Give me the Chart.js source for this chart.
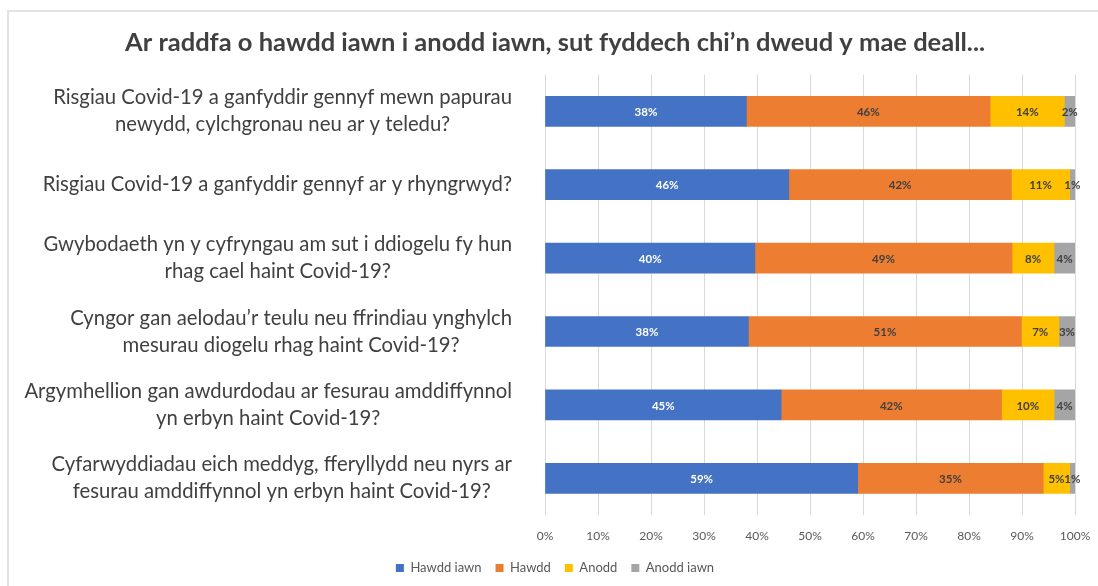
<!DOCTYPE html>
<html>
<head>
<meta charset="utf-8">
<script src="https://cdn.jsdelivr.net/npm/chart.js@4.4.1/dist/chart.umd.min.js"></script>
<style>
  html, body { margin: 0; padding: 0; background: #fff; overflow: hidden; }
  #wrap { position: relative; width: 1098px; height: 586px; }
  #frame { position: absolute; left: 7px; top: 10px; width: 1200px; height: 700px;
           border-left: 2px solid #e3e3e3; border-top: 2px solid #e3e3e3; }
  canvas { position: absolute; left: 0; top: 0; }
</style>
</head>
<body>
<div id="wrap">
  <div id="frame"></div>
  <canvas id="chart" width="1098" height="586"></canvas>
</div>
<script>
'use strict'

var questions = [
  ['Risgiau Covid-19 a ganfyddir gennyf mewn papurau', 'newydd, cylchgronau neu ar y teledu?'],
  ['Risgiau Covid-19 a ganfyddir gennyf ar y rhyngrwyd?'],
  ['Gwybodaeth yn y cyfryngau am sut i ddiogelu fy hun', 'rhag cael haint Covid-19?'],
  ['Cyngor gan aelodau\u2019r teulu neu ffrindiau ynghylch', 'mesurau diogelu rhag haint Covid-19?'],
  ['Argymhellion gan awdurdodau ar fesurau amddiffynnol', 'yn erbyn haint Covid-19?'],
  ['Cyfarwyddiadau eich meddyg, fferyllydd neu nyrs ar', 'fesurau amddiffynnol yn erbyn haint Covid-19?']
];

var hawddIawn = [38, 46, 40, 38, 45, 59];
var hawdd     = [46, 42, 49, 51, 42, 35];
var anodd     = [14, 11, 8, 7, 10, 5];
var anoddIawn = [2, 1, 4, 3, 4, 1];

var seriesNames = ['Hawdd iawn', 'Hawdd', 'Anodd', 'Anodd iawn'];
var seriesColors = ['#4472C4', '#ED7D31', '#FFC000', '#A5A5A5'];
var xTicks = [0, 10, 20, 30, 40, 50, 60, 70, 80, 90, 100];

var FONT = 'Lato, "Open Sans", sans-serif';
var PAD_LEFT = 35;
var AXIS_LEFT = 545;

// 100% stacked: each row is scaled by its own total
var raw = [hawddIawn, hawdd, anodd, anoddIawn];
var totals = questions.map(function(q, i) {
  return raw.reduce(function(s, arr) { return s + arr[i]; }, 0);
});

var datasets = raw.map(function(arr, k) {
  return {
    label: seriesNames[k],
    data: arr.map(function(v, i) { return v / totals[i] * 100; }),
    raw: arr,
    backgroundColor: seriesColors[k],
    borderWidth: 0,
    barThickness: 30
  };
});

// percentage text in the middle of each segment
var segmentLabels = {
  id: 'segmentLabels',
  afterDatasetsDraw: function(chart) {
    var ctx = chart.ctx;
    ctx.save();
    ctx.font = 'bold 11.5px ' + FONT;
    ctx.textAlign = 'center';
    ctx.textBaseline = 'middle';
    chart.data.datasets.forEach(function(ds, k) {
      var meta = chart.getDatasetMeta(k);
      meta.data.forEach(function(bar, i) {
        ctx.fillStyle = k === 0 ? '#ffffff' : '#404040';
        ctx.fillText(ds.raw[i] + '%', (bar.x + bar.base) / 2, bar.y + 1);
      });
    });
    ctx.restore();
  }
};

// question text: lines centred on the widest line, block right-aligned to the axis
var questionLabels = {
  id: 'questionLabels',
  afterDraw: function(chart) {
    var ctx = chart.ctx;
    var yScale = chart.scales.y;
    var right = AXIS_LEFT - 33;
    var lineH = 27;
    ctx.save();
    ctx.font = '20.3px ' + FONT;
    ctx.fillStyle = '#404040';
    ctx.textAlign = 'center';
    ctx.textBaseline = 'middle';
    questions.forEach(function(lines, i) {
      var w = Math.max.apply(null, lines.map(function(l) { return ctx.measureText(l).width; }));
      var cx = right - w / 2;
      var y0 = yScale.getPixelForTick(i) - (lines.length - 1) * lineH / 2;
      lines.forEach(function(l, j) {
        ctx.fillText(l, cx, y0 + j * lineH);
      });
    });
    ctx.restore();
  }
};

function initChart() {
  var ctx = document.getElementById('chart').getContext('2d');
  new Chart(ctx, {
    type: 'bar',
    data: {
      labels: questions.map(function(q) { return q.join(' '); }),
      datasets: datasets
    },
    options: {
      indexAxis: 'y',
      responsive: false,
      animation: false,
      layout: { padding: { left: PAD_LEFT, right: 23, top: 0, bottom: 1.5 } },
      scales: {
        x: {
          stacked: true,
          min: 0,
          max: 100,
          afterBuildTicks: function(scale) {
            scale.ticks = xTicks.map(function(v) { return { value: v }; });
          },
          afterFit: function(scale) {
            scale.height = 32.5;
            scale.paddingRight = 0;
          },
          grid: { color: '#d9d9d9', drawTicks: false },
          border: { display: false },
          ticks: {
            padding: 14,
            color: '#595959',
            font: { family: FONT, size: 12 },
            callback: function(v) { return v + '%'; }
          }
        },
        y: {
          stacked: true,
          grid: { display: false },
          border: { display: false },
          ticks: { display: false },
          afterFit: function(scale) { scale.width = AXIS_LEFT - PAD_LEFT; }
        }
      },
      plugins: {
        title: {
          display: true,
          text: 'Ar raddfa o hawdd iawn i anodd iawn, sut fyddech chi\u2019n dweud y mae deall...',
          color: '#404040',
          font: { family: FONT, size: 25.5, weight: 'bold' },
          padding: { top: 27, bottom: 17 }
        },
        legend: {
          position: 'bottom',
          labels: {
            color: '#595959',
            font: { family: FONT, size: 13 },
            boxWidth: 8,
            boxHeight: 8,
            padding: 14
          }
        },
        tooltip: { enabled: false }
      }
    },
    plugins: [segmentLabels, questionLabels]
  });
}

initChart();
</script>
</body>
</html>
